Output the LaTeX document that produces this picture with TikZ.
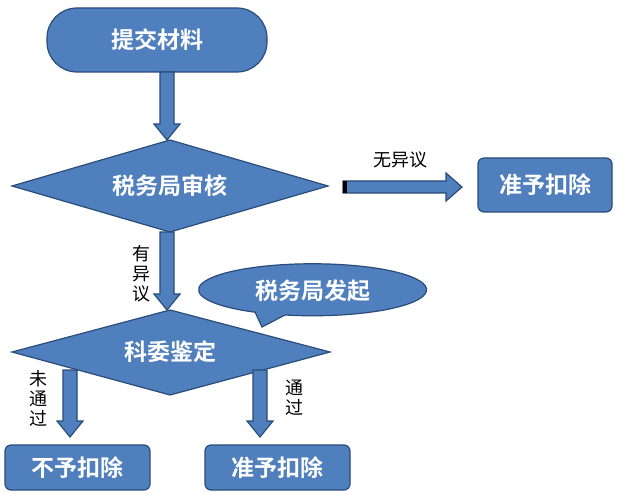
\documentclass[tikz,border=0pt]{standalone}
\usepackage{fontspec}
\newfontfamily\cjk{Noto Sans CJK SC}
\newfontfamily\cjkb{Noto Sans CJK SC Bold}
\begin{document}
\begin{tikzpicture}[x=1pt,y=-1pt,
  shp/.style={fill=fblue,draw=dblue,line width=1.2pt},
  wt/.style={text=white,font=\cjkb\fontsize{23}{23}\selectfont},
  lb/.style={text=black,font=\cjk\fontsize{18}{20}\selectfont,align=center}]
\definecolor{fblue}{HTML}{4F7FBD}
\definecolor{dblue}{HTML}{2A4C7A}
\useasboundingbox (0,0) rectangle (624,494);
\fill[white] (0,0) rectangle (624,494);
% start terminal
\draw[shp,rounded corners=30pt] (47,8) rectangle (267,72);
\node[wt] (start) at (157,40) {提交材料};
% arrow 1
\draw[shp] (160,72) -- (174,72) -- (174,124) -- (180,124) -- (167,140) -- (154,124) -- (160,124) -- cycle;
% diamond 1
\draw[shp] (12,186) -- (170,140) -- (328,186) -- (170,232) -- cycle;
\node[wt] (d1) at (170,186) {税务局审核};
% right arrow
\draw[shp] (343,181) -- (446,181) -- (446,173) -- (462,187) -- (446,201) -- (446,193) -- (343,193) -- cycle;
\fill[black] (343,181) rectangle (347,193);
\node[lb] (l1) at (400,160) {无异议};
% right box
\draw[shp,rounded corners=6pt] (478,158) rectangle (612,212);
\node[wt] (r1) at (545,185) {准予扣除};
% arrow 2
\draw[shp] (160,232) -- (174,232) -- (174,294) -- (180,294) -- (167,310) -- (154,294) -- (160,294) -- cycle;
\node[lb] (l2) at (141,274) {有\\异\\议};
% callout
\draw[shp] (255,312) -- (262,327) -- (285,315) arc[start angle=104,end angle=-239,x radius=114,y radius=26] -- cycle;
\node[wt] (c) at (313,291) {税务局发起};
% diamond 2
\draw[shp] (12,352) -- (170,310) -- (330,352) -- (170,395) -- cycle;
\node[wt] (d2) at (170,352) {科委鉴定};
% lower arrows
\draw[shp] (63,370) -- (77,370) -- (77,421) -- (83,421) -- (70,437) -- (57,421) -- (63,421) -- cycle;
\draw[shp] (253,370) -- (267,370) -- (267,421) -- (273,421) -- (260,437) -- (247,421) -- (253,421) -- cycle;
\node[lb] (l3) at (38,398) {未\\通\\过};
\node[lb] (l4) at (294,398) {通\\过};
% bottom boxes
\draw[shp,rounded corners=6pt] (5,445) rectangle (150,490);
\node[wt] (b1) at (77,468) {不予扣除};
\draw[shp,rounded corners=6pt] (205,445) rectangle (350,490);
\node[wt] (b2) at (277,468) {准予扣除};
\end{tikzpicture}
\end{document}
